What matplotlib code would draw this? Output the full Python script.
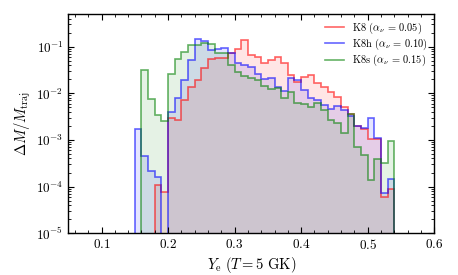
import numpy as np
import matplotlib
matplotlib.use("Agg")
import matplotlib.pyplot as plt
from matplotlib.lines import Line2D
from matplotlib.ticker import MultipleLocator, LogLocator, NullFormatter

plt.rcParams['font.family'] = 'serif'
plt.rcParams['font.serif'] = ['cmr10', 'DejaVu Serif']
plt.rcParams['mathtext.fontset'] = 'cm'
plt.rcParams['axes.formatter.use_mathtext'] = True

# bin edges in Ye (0.15 ... 0.54, width 0.01)
ye_edges = np.round(np.arange(0.15, 0.5450, 0.01), 2)

labels = [r'K8 ($\alpha_\nu \,=\, 0.05$)', r'K8h ($\alpha_\nu \,=\, 0.10$)', r'K8s ($\alpha_\nu \,=\, 0.15$)']
colors = ['red', 'blue', 'green']

k8 = [0, 0, 0, 1.1e-4, 7.8e-5, 0.0029, 0.0027, 0.0072, 0.0139, 0.019,
      0.034, 0.053, 0.056, 0.058, 0.072, 0.088, 0.139, 0.066, 0.061, 0.044,
      0.052, 0.061, 0.044, 0.0247, 0.0178, 0.0228, 0.0247, 0.0169, 0.0134, 0.0109,
      0.0085, 0.0052, 0.0036, 0.0020, 0.0017, 0.00103, 0.00103, 6.1e-5, 9.0e-5]
k8h = [0.0017, 4.5e-4, 2.2e-4, 1.6e-4, 0, 0.004, 0.0078, 0.019, 0.052, 0.144,
       0.134, 0.085, 0.088, 0.095, 0.074, 0.044, 0.040, 0.037, 0.026, 0.020,
       0.021, 0.0137, 0.0114, 0.021, 0.019, 0.0118, 0.0078, 0.0072, 0.0056, 0.0045,
       0.0054, 0.0044, 0.0033, 0.0020, 0.0018, 0.0029, 0.0011, 7.4e-5, 1.46e-4]
k8s = [0, 0.0316, 0.0074, 0.0034, 0.0026, 0.026, 0.055, 0.078, 0.109, 0.11,
       0.118, 0.115, 0.074, 0.074, 0.040, 0.029, 0.0235, 0.021, 0.0193, 0.0144,
       0.0125, 0.013, 0.0078, 0.0109, 0.0063, 0.0059, 0.005, 0.0063, 0.0044, 0.0027,
       0.0023, 0.0014, 0.0036, 7e-4, 4.8e-4, 1.4e-4, 3.9e-4, 3.2e-4, 9.7e-4]
series = [k8, k8h, k8s]

fig = plt.figure(figsize=(4.58, 2.75), dpi=100)
ax = fig.add_axes([0.149, 0.152, 0.799, 0.797])
ax.set_yscale('log')

floor = 1e-8
for vals, col in zip(series, colors):
    v = np.array(vals, dtype=float)
    v = np.where(v > 0, v, floor)
    ax.stairs(v, ye_edges, baseline=floor, fill=True, color=col, alpha=0.1, lw=0)
for vals, col in zip(series, colors):
    v = np.array(vals, dtype=float)
    v = np.where(v > 0, v, floor)
    ax.stairs(v, ye_edges, baseline=floor, fill=False, color=col, alpha=0.6, lw=1.2)

ax.set_xlim(0.05, 0.6)
ax.set_ylim(1e-5, 0.5)
ax.xaxis.set_major_locator(MultipleLocator(0.1))
ax.xaxis.set_minor_locator(MultipleLocator(0.02))
ax.yaxis.set_major_locator(LogLocator(base=10, numticks=10))
ax.yaxis.set_minor_locator(LogLocator(base=10, subs=np.arange(2, 10), numticks=10))
ax.yaxis.set_minor_formatter(NullFormatter())
ax.tick_params(which='both', direction='in', top=True, right=True, labelsize=9.5)
ax.tick_params(which='major', length=4, width=0.8)
ax.tick_params(which='minor', length=2, width=0.6)
for s in ax.spines.values():
    s.set_linewidth(1.0)

ax.set_xlabel(r'$Y_{\rm e}\ (T = 5\ {\rm GK})$', fontsize=10.5, labelpad=2)
ax.set_ylabel(r'$\Delta M/M_{\rm traj}$', fontsize=10.5, labelpad=2)

handles = [Line2D([], [], color=c, alpha=0.6, lw=1.2) for c in colors]
ax.legend(handles, labels, loc='upper right', frameon=False, fontsize=7.5,
          handlelength=1.9, handletextpad=0.7, borderaxespad=0.35,
          borderpad=0.3, labelspacing=0.08)

fig.savefig('out.png', dpi=100)
